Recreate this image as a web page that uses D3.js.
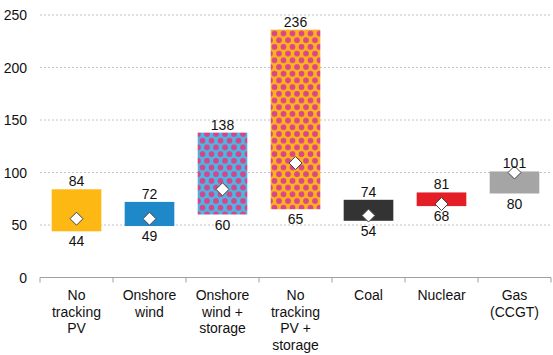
<!DOCTYPE html>
<html><head><meta charset="utf-8">
<script src="https://cdn.jsdelivr.net/npm/d3@7"></script>
<style>body{margin:0;background:#fff}svg{display:block}text{font-family:"Liberation Sans",Arial,sans-serif;fill:#111}</style>
</head><body><svg id="c" width="553" height="355"></svg>
<script>
const categories = [["No","tracking","PV"],["Onshore","wind"],["Onshore","wind +","storage"],["No","tracking","PV +","storage"],["Coal"],["Nuclear"],["Gas","(CCGT)"]];
const lowValues  = [44, 49, 60, 65, 54, 68, 80];
const highValues = [84, 72, 138, 236, 74, 81, 101];
const midValues  = [56, 56, 84, 109, 59, 70, 100];
const fills = ["#FDB813", "#1E88C9", "url(#pBlue)", "url(#pOrange)", "#333333", "#E41E26", "#A5A5A5"];
const yTicks = [0, 50, 100, 150, 200, 250];

const svg = d3.select("#c");
const defs = svg.append("defs");
function pat(id, bg, dot){
  const w = 9, h = 13.4;
  const p = defs.append("pattern").attr("id", id).attr("patternUnits","userSpaceOnUse")
    .attr("width", w).attr("height", h);
  p.append("rect").attr("width", w).attr("height", h).attr("fill", bg);
  [[0,0],[w,0],[0,h],[w,h],[w/2,h/2]].forEach(([cx,cy]) =>
    p.append("circle").attr("cx", cx).attr("cy", cy).attr("r", 2.9).attr("fill", dot));
}
pat("pBlue", "#4DB6E2", "#D6458A");
pat("pOrange", "#FDB21E", "#D9468A");

const x = d3.scaleBand().domain(d3.range(categories.length)).range([40, 551]).paddingInner(0.32).paddingOuter(0.16);
const xb = d3.scaleBand().domain(d3.range(categories.length)).range([40, 551]);
const y = d3.scaleLinear().domain([0, 250]).range([277.5, 15]);

// gridlines
svg.append("g").selectAll("line").data(yTicks.filter(d => d > 0)).join("line")
  .attr("x1", 40).attr("x2", 551).attr("y1", d => y(d)).attr("y2", d => y(d))
  .attr("stroke", "#C4C4C4").attr("stroke-width", 1).attr("stroke-dasharray", "2,2");

// y labels
svg.append("g").selectAll("text").data(yTicks).join("text")
  .attr("x", 27).attr("y", d => y(d) + 5).attr("text-anchor", "end")
  .attr("font-size", 14).text(d => d);

// bars
const idx = d3.range(categories.length);
svg.append("g").selectAll("rect").data(idx).join("rect")
  .attr("x", i => x(i)).attr("width", x.bandwidth())
  .attr("y", i => y(highValues[i])).attr("height", i => y(lowValues[i]) - y(highValues[i]))
  .attr("fill", i => fills[i]);

// x axis
svg.append("line").attr("x1", 40).attr("x2", 551).attr("y1", y(0)).attr("y2", y(0))
  .attr("stroke", "#A0A0A0").attr("stroke-width", 1);
svg.append("g").selectAll("line").data(d3.range(categories.length + 1)).join("line")
  .attr("x1", i => i < categories.length ? xb(i) : 551).attr("x2", i => i < categories.length ? xb(i) : 551)
  .attr("y1", y(0)).attr("y2", y(0) + 5).attr("stroke", "#A0A0A0");

// diamonds
svg.append("g").selectAll("path").data(idx).join("path")
  .attr("transform", i => `translate(${x(i) + x.bandwidth()/2},${y(midValues[i])})`)
  .attr("d", "M0,-6.5L6.5,0L0,6.5L-6.5,0Z")
  .attr("fill", "#fff").attr("stroke", "#444").attr("stroke-width", 1);

// value labels
svg.append("g").selectAll("text").data(idx).join("text")
  .attr("x", i => x(i) + x.bandwidth()/2).attr("y", i => y(highValues[i]) - 3)
  .attr("text-anchor", "middle").attr("font-size", 14).text(i => highValues[i]);
svg.append("g").selectAll("text").data(idx).join("text")
  .attr("x", i => x(i) + x.bandwidth()/2).attr("y", i => y(lowValues[i]) + 15)
  .attr("text-anchor", "middle").attr("font-size", 14).text(i => lowValues[i]);

// category labels
const cg = svg.append("g").selectAll("text").data(idx).join("text")
  .attr("text-anchor", "middle").attr("font-size", 14);
cg.each(function(i){
  d3.select(this).selectAll("tspan").data(categories[i]).join("tspan")
    .attr("x", xb(i) + xb.bandwidth()/2).attr("y", (d, k) => 300 + k * 16.5).text(d => d);
});
</script></body></html>
